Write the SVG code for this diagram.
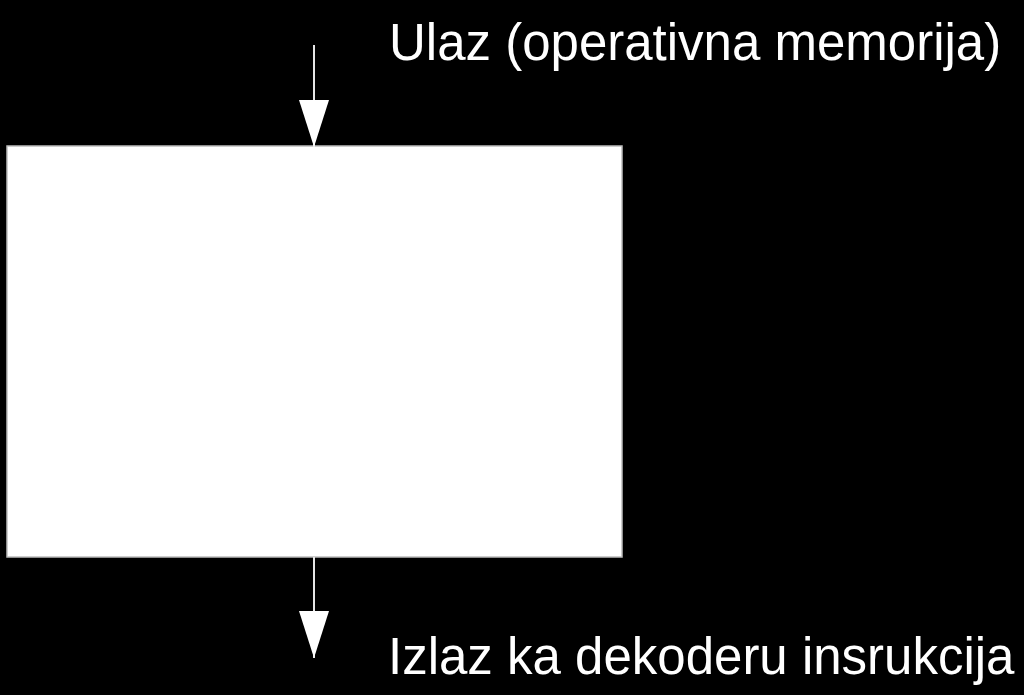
<svg xmlns="http://www.w3.org/2000/svg" width="1024" height="695" viewBox="0 0 1024 695">
  <defs>
    <style>
      .lbl { font-family: "Liberation Sans", Arial, sans-serif; font-size: 51px; fill: #ffffff; }
      .conn { stroke: #e6e6e6; stroke-width: 2; fill: none; }
    </style>
    <marker id="arrow" markerUnits="userSpaceOnUse" markerWidth="47" markerHeight="30" refX="47" refY="15" orient="auto" viewBox="0 0 47 30">
      <path d="M0,0 L47,15 L0,30 Z" fill="#ffffff"/>
    </marker>
  </defs>
  <rect x="0" y="0" width="1024" height="695" fill="#000000"/>
  <g id="register">
    <rect x="7" y="146" width="615" height="411" fill="#ffffff" stroke="#bdbdbd" stroke-width="1.5"/>
  </g>
  <g id="connectors">
    <line class="conn" x1="314" y1="45" x2="314" y2="147" marker-end="url(#arrow)"/>
    <line class="conn" x1="314" y1="557" x2="314" y2="658" marker-end="url(#arrow)"/>
  </g>
  <g id="input-label">
    <text class="lbl" x="389" y="60">Ulaz (operativna memorija)</text>
  </g>
  <g id="output-label">
    <text class="lbl" x="388" y="674">Izlaz ka dekoderu insrukcija</text>
  </g>
</svg>
